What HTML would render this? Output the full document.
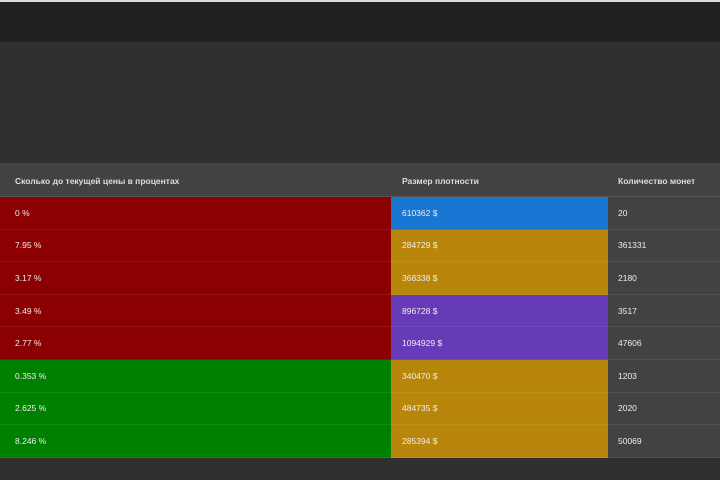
<!DOCTYPE html>
<html><head><meta charset="utf-8"><style>
*{margin:0;padding:0;box-sizing:border-box}
body{width:720px;height:480px;background:#303030;font-family:"Liberation Sans",sans-serif;font-size:8.5px;color:#eee;position:relative;overflow:hidden}
.top{position:absolute;left:0;top:0;width:720px;height:2px;background:#ddd}
.bar{position:absolute;left:0;top:2px;width:720px;height:40px;background:#212121}
.hdr{position:absolute;left:0;top:163px;width:720px;height:34px;background:#424242;border-bottom:1px solid #555}
.c{position:absolute;padding-left:15px;display:flex;align-items:center;border-bottom:1px solid rgba(255,255,255,0.08)}
.hdr span{position:absolute;top:13px;font-weight:bold;color:#ddd}
</style></head><body>
<div class="top"></div><div class="bar"></div>
<div class="hdr"><span style="left:15px">Сколько до текущей цены в процентах</span><span style="left:402px">Размер плотности</span><span style="left:618px">Количество монет</span></div>
<div id="t"></div>
<script>
var rows=[["0 %","#8b0000","610362 $","#1976d2","20"],["7.95 %","#8b0000","284729 $","#b8860b","361331"],["3.17 %","#8b0000","368338 $","#b8860b","2180"],["3.49 %","#8b0000","896728 $","#673ab7","3517"],["2.77 %","#8b0000","1094929 $","#673ab7","47606"],["0.353 %","#008000","340470 $","#b8860b","1203"],["2.625 %","#008000","484735 $","#b8860b","2020"],["8.246 %","#008000","285394 $","#b8860b","50069"]];
var h="";rows.forEach(function(r,i){var y=197+i*32.6;
h+='<div class="c" style="left:0;top:'+y+'px;width:391px;height:32.6px;background:'+r[1]+'">'+r[0]+'</div>';
h+='<div class="c" style="left:391px;top:'+y+'px;width:217px;height:32.6px;background:'+r[3]+';padding-left:11px">'+r[2]+'</div>';
h+='<div class="c" style="left:608px;top:'+y+'px;width:112px;height:32.6px;background:#424242;padding-left:10px">'+r[4]+'</div>';});
document.getElementById("t").innerHTML=h;
</script>
</body></html>
